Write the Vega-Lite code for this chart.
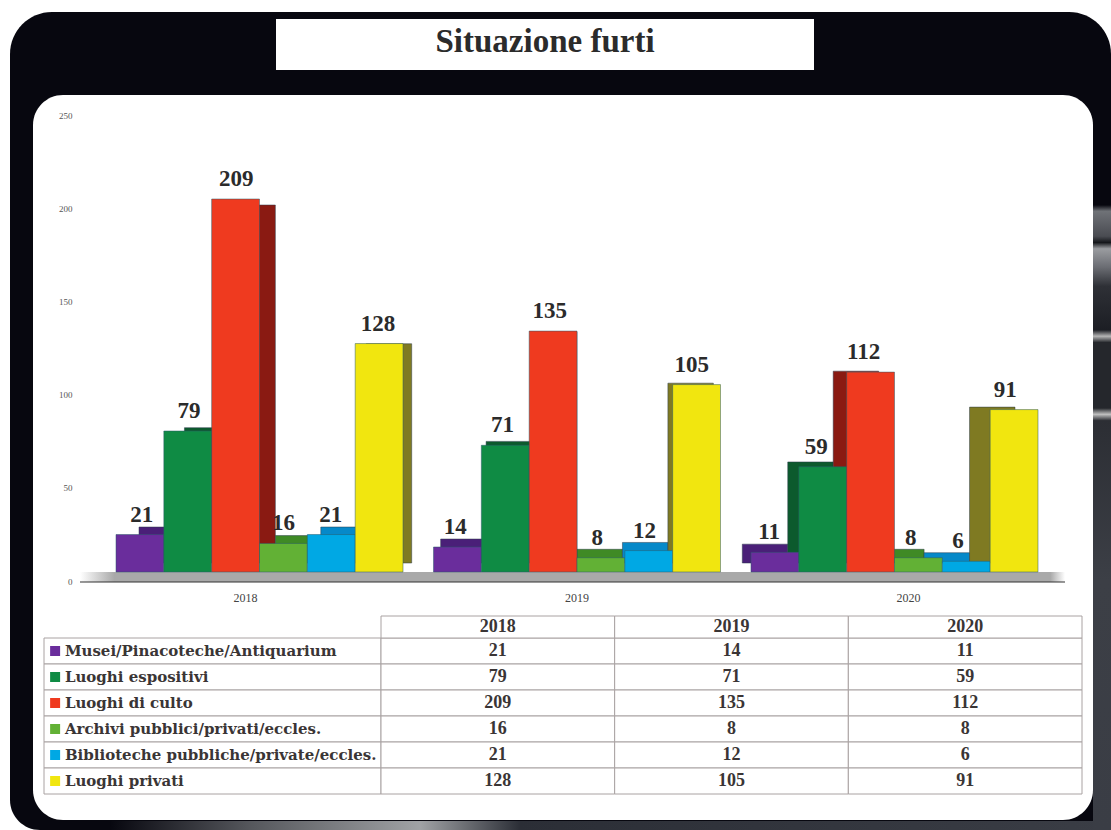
{"$schema":"https://vega.github.io/schema/vega-lite/v6.json","width":1111,"height":830,"autosize":{"type":"fit","contains":"padding"},"padding":0,"background":"#ffffff","view":{"stroke":null},
"datasets":{"furti":[
{"anno":"2018","tipo":"Musei/Pinacoteche/Antiquarium","furti":21},{"anno":"2018","tipo":"Luoghi espositivi","furti":79},{"anno":"2018","tipo":"Luoghi di culto","furti":209},{"anno":"2018","tipo":"Archivi pubblici/privati/eccles.","furti":16},{"anno":"2018","tipo":"Biblioteche pubbliche/private/eccles.","furti":21},{"anno":"2018","tipo":"Luoghi privati","furti":128},
{"anno":"2019","tipo":"Musei/Pinacoteche/Antiquarium","furti":14},{"anno":"2019","tipo":"Luoghi espositivi","furti":71},{"anno":"2019","tipo":"Luoghi di culto","furti":135},{"anno":"2019","tipo":"Archivi pubblici/privati/eccles.","furti":8},{"anno":"2019","tipo":"Biblioteche pubbliche/private/eccles.","furti":12},{"anno":"2019","tipo":"Luoghi privati","furti":105},
{"anno":"2020","tipo":"Musei/Pinacoteche/Antiquarium","furti":11},{"anno":"2020","tipo":"Luoghi espositivi","furti":59},{"anno":"2020","tipo":"Luoghi di culto","furti":112},{"anno":"2020","tipo":"Archivi pubblici/privati/eccles.","furti":8},{"anno":"2020","tipo":"Biblioteche pubbliche/private/eccles.","furti":6},{"anno":"2020","tipo":"Luoghi privati","furti":91}],
"tipi":[{"tipo":"Musei/Pinacoteche/Antiquarium"},{"tipo":"Luoghi espositivi"},{"tipo":"Luoghi di culto"},{"tipo":"Archivi pubblici/privati/eccles."},{"tipo":"Biblioteche pubbliche/private/eccles."},{"tipo":"Luoghi privati"}],
"anni":[{"anno":"2018"},{"anno":"2019"},{"anno":"2020"}],
"uno":[{"voce":"fondo"}]},
"resolve":{"scale":{"x":"independent","y":"independent","color":"independent","xOffset":"independent"}},
"layer":[
{"data":{"name":"uno"},"mark":{"type":"bar","color":"#07070f","cornerRadiusTopLeft":42,"cornerRadiusTopRight":42,"cornerRadiusBottomLeft":30},"encoding":{"x":{"datum":0,"type":"quantitative","scale":{"domain":[0,1],"range":[10,1111]},"axis":null},"x2":{"datum":1},"y":{"datum":0,"type":"quantitative","scale":{"domain":[0,1],"range":[12,830]},"axis":null},"y2":{"datum":1}}},
{"data":{"name":"uno"},"mark":{"type":"bar","color":{"gradient":"linear","x1":0,"x2":1,"y1":0,"y2":0,"stops":[{"offset":0,"color":"#07070f"},{"offset":0.14,"color":"#55575c"},{"offset":0.31,"color":"#a0a2a5"},{"offset":0.41,"color":"#2b2e36"},{"offset":1,"color":"#3a3d45"}]}},"encoding":{"x":{"datum":0,"type":"quantitative","scale":{"domain":[0,1],"range":[110,1111]},"axis":null},"x2":{"datum":1},"y":{"datum":0,"type":"quantitative","scale":{"domain":[0,1],"range":[821,830]},"axis":null},"y2":{"datum":1}}},
{"data":{"name":"uno"},"mark":{"type":"bar","color":{"gradient":"linear","x1":0,"x2":0,"y1":0,"y2":1,"stops":[{"offset":0,"color":"#07070f"},{"offset":0.01,"color":"#6f7277"},{"offset":0.05,"color":"#4a4c52"},{"offset":0.06,"color":"#15171b"},{"offset":0.07,"color":"#9a9ca0"},{"offset":0.1,"color":"#6a6c72"},{"offset":0.13,"color":"#2e3036"},{"offset":0.2,"color":"#1c1e24"},{"offset":0.21,"color":"#b5b5b5"},{"offset":0.22,"color":"#25272c"},{"offset":0.325,"color":"#25272c"},{"offset":0.335,"color":"#c0c0c0"},{"offset":0.345,"color":"#2c2e34"},{"offset":0.6,"color":"#3c3f46"},{"offset":1,"color":"#3a3d45"}]}},"encoding":{"x":{"datum":0,"type":"quantitative","scale":{"domain":[0,1],"range":[1093,1111]},"axis":null},"x2":{"datum":1},"y":{"datum":0,"type":"quantitative","scale":{"domain":[0,1],"range":[205,830]},"axis":null},"y2":{"datum":1}}},
{"data":{"name":"uno"},"mark":{"type":"bar","color":"#ffffff","cornerRadius":30},"encoding":{"x":{"datum":0,"type":"quantitative","scale":{"domain":[0,1],"range":[33,1093]},"axis":null},"x2":{"datum":1},"y":{"datum":0,"type":"quantitative","scale":{"domain":[0,1],"range":[95,820]},"axis":null},"y2":{"datum":1}}},
{"data":{"name":"uno"},"mark":{"type":"bar","color":"#ffffff"},"encoding":{"x":{"datum":0,"type":"quantitative","scale":{"domain":[0,1],"range":[276,814]},"axis":null},"x2":{"datum":1},"y":{"datum":0,"type":"quantitative","scale":{"domain":[0,1],"range":[19,70]},"axis":null},"y2":{"datum":1}}},
{"data":{"name":"uno"},"mark":{"type":"text","text":"Situazione furti","font":"Liberation Serif","fontWeight":"bold","fontSize":33,"color":"#2b2b2b","letterSpacing":1},"encoding":{"x":{"datum":0.5,"type":"quantitative","scale":{"domain":[0,1],"range":[276,814]},"axis":null},"y":{"datum":0.46,"type":"quantitative","scale":{"domain":[0,1],"range":[19,70]},"axis":null}}},
{"data":{"name":"uno"},"mark":{"type":"bar","color":{"gradient":"linear","x1":0,"x2":1,"y1":0,"y2":0,"stops":[{"offset":0,"color":"#ffffff"},{"offset":0.035,"color":"#a9a9a9"},{"offset":0.985,"color":"#a9a9a9"},{"offset":1,"color":"#ffffff"}]}},"encoding":{"x":{"datum":0,"type":"quantitative","scale":{"domain":[0,1],"range":[80,1065]},"axis":null},"x2":{"datum":1},"y":{"datum":0,"type":"quantitative","scale":{"domain":[0,1],"range":[572,582]},"axis":null},"y2":{"datum":1}}},
{"data":{"name":"uno"},"mark":{"type":"bar","color":"#333333"},"encoding":{"x":{"datum":0,"type":"quantitative","scale":{"domain":[0,1],"range":[80,1065]},"axis":null},"x2":{"datum":1},"y":{"datum":0,"type":"quantitative","scale":{"domain":[0,1],"range":[581.5,582.5]},"axis":null},"y2":{"datum":1}}},
{"data":{"name":"furti"},"mark":{"type":"point","opacity":0},"encoding":{
"x":{"field":"anno","type":"ordinal","scale":{"type":"point","padding":0,"domain":["2018","2019","2020"],"range":[245,908]},"axis":{"title":null,"orient":"bottom","offset":-238,"domain":false,"ticks":false,"labelAngle":0,"labelFont":"Liberation Serif","labelFontSize":12,"labelColor":"#444444","labelPadding":0,"grid":false,"zindex":1}},
"y":{"field":"furti","type":"quantitative","scale":{"domain":[0,250],"range":[581,115]},"axis":{"title":null,"orient":"left","offset":-72,"domain":false,"ticks":false,"values":[0,50,100,150,200,250],"labelFont":"Liberation Serif","labelFontSize":9,"labelColor":"#555555","labelPadding":0,"grid":false,"zindex":1}}}},
{"data":{"name":"furti"},"mark":{"type":"bar","stroke":"#2a3a4a","strokeWidth":0.5},"encoding":{
"x":{"field":"anno","type":"nominal","scale":{"type":"band","domain":["2018","2019","2020"],"range":[139,1015],"paddingInner":0.096,"paddingOuter":0},"axis":null},
"xOffset":{"field":"tipo","type":"nominal","sort":null,"scale":{"type":"band","domain":["Musei/Pinacoteche/Antiquarium","Luoghi espositivi","Luoghi di culto","Archivi pubblici/privati/eccles.","Biblioteche pubbliche/private/eccles.","Luoghi privati"],"paddingInner":0,"paddingOuter":0}},
"y":{"field":"furti","type":"quantitative","scale":{"domain":[0,209],"range":[563,205]},"axis":null},
"color":{"field":"tipo","type":"nominal","legend":null,"scale":{"domain":["Musei/Pinacoteche/Antiquarium","Luoghi espositivi","Luoghi di culto","Archivi pubblici/privati/eccles.","Biblioteche pubbliche/private/eccles.","Luoghi privati"],"range":["#4a1f78","#0c5a2d","#8a1a12","#3f8a25","#0689c9","#7f7a22"]}}}},
{"data":{"name":"furti"},"mark":{"type":"bar","stroke":"#2a5a6a","strokeWidth":0.5},"encoding":{
"x":{"field":"anno","type":"nominal","scale":{"type":"band","domain":["2018","2019","2020"],"range":[116,1038],"paddingInner":0.096,"paddingOuter":0},"axis":null},
"xOffset":{"field":"tipo","type":"nominal","sort":null,"scale":{"type":"band","domain":["Musei/Pinacoteche/Antiquarium","Luoghi espositivi","Luoghi di culto","Archivi pubblici/privati/eccles.","Biblioteche pubbliche/private/eccles.","Luoghi privati"],"paddingInner":0,"paddingOuter":0}},
"y":{"field":"furti","type":"quantitative","scale":{"domain":[0,209],"range":[572,199]},"axis":null},
"color":{"field":"tipo","type":"nominal","legend":null,"scale":{"domain":["Musei/Pinacoteche/Antiquarium","Luoghi espositivi","Luoghi di culto","Archivi pubblici/privati/eccles.","Biblioteche pubbliche/private/eccles.","Luoghi privati"],"range":["#6a2d9c","#0f8b44","#ef3a1f","#62b135","#00a8e4","#f1e60f"]}}}},
{"data":{"name":"furti"},"mark":{"type":"text","font":"Liberation Serif","fontWeight":"bold","fontSize":23,"color":"#2b2b2b","dy":-20},"encoding":{
"x":{"field":"anno","type":"nominal","scale":{"type":"band","domain":["2018","2019","2020"],"range":[118,1029],"paddingInner":0.096,"paddingOuter":0},"axis":null},
"xOffset":{"field":"tipo","type":"nominal","sort":null,"scale":{"type":"band","domain":["Musei/Pinacoteche/Antiquarium","Luoghi espositivi","Luoghi di culto","Archivi pubblici/privati/eccles.","Biblioteche pubbliche/private/eccles.","Luoghi privati"],"paddingInner":0,"paddingOuter":0}},
"y":{"field":"furti","type":"quantitative","scale":{"domain":[0,209],"range":[572,199]},"axis":null},
"text":{"field":"furti","type":"quantitative"}}},
{"data":{"name":"tipi"},"mark":{"type":"bar","fill":"#ffffff","stroke":"#a9a2a2","strokeWidth":1},"encoding":{"x":{"datum":0,"type":"quantitative","scale":{"domain":[0,1],"range":[44,381]},"axis":null},"x2":{"datum":1},"y":{"field":"tipo","type":"nominal","sort":null,"scale":{"type":"band","domain":["Musei/Pinacoteche/Antiquarium","Luoghi espositivi","Luoghi di culto","Archivi pubblici/privati/eccles.","Biblioteche pubbliche/private/eccles.","Luoghi privati"],"range":[638,794],"paddingInner":0,"paddingOuter":0},"axis":null}}},
{"data":{"name":"tipi"},"mark":{"type":"point","shape":"square","filled":true,"size":100,"opacity":1},"encoding":{"x":{"datum":0.033,"type":"quantitative","scale":{"domain":[0,1],"range":[44,381]},"axis":null},"y":{"field":"tipo","type":"nominal","sort":null,"scale":{"type":"band","domain":["Musei/Pinacoteche/Antiquarium","Luoghi espositivi","Luoghi di culto","Archivi pubblici/privati/eccles.","Biblioteche pubbliche/private/eccles.","Luoghi privati"],"range":[638,794],"paddingInner":0,"paddingOuter":0},"axis":null},"color":{"field":"tipo","type":"nominal","legend":null,"scale":{"domain":["Musei/Pinacoteche/Antiquarium","Luoghi espositivi","Luoghi di culto","Archivi pubblici/privati/eccles.","Biblioteche pubbliche/private/eccles.","Luoghi privati"],"range":["#6a2d9c","#0f8b44","#ef3a1f","#62b135","#00a8e4","#f1e60f"]}}}},
{"data":{"name":"tipi"},"mark":{"type":"text","align":"left","font":"DejaVu Serif","fontWeight":"bold","fontSize":15,"color":"#3a3535"},"encoding":{"x":{"datum":0.062,"type":"quantitative","scale":{"domain":[0,1],"range":[44,381]},"axis":null},"y":{"field":"tipo","type":"nominal","sort":null,"scale":{"type":"band","domain":["Musei/Pinacoteche/Antiquarium","Luoghi espositivi","Luoghi di culto","Archivi pubblici/privati/eccles.","Biblioteche pubbliche/private/eccles.","Luoghi privati"],"range":[638,794],"paddingInner":0,"paddingOuter":0},"axis":null},"text":{"field":"tipo","type":"nominal"}}},
{"data":{"name":"furti"},"mark":{"type":"rect","fill":"#ffffff","stroke":"#a9a2a2","strokeWidth":1},"encoding":{"x":{"field":"anno","type":"nominal","scale":{"type":"band","domain":["2018","2019","2020"],"range":[381,1082],"paddingInner":0,"paddingOuter":0},"axis":null},"y":{"field":"tipo","type":"nominal","sort":null,"scale":{"type":"band","domain":["Musei/Pinacoteche/Antiquarium","Luoghi espositivi","Luoghi di culto","Archivi pubblici/privati/eccles.","Biblioteche pubbliche/private/eccles.","Luoghi privati"],"range":[638,794],"paddingInner":0,"paddingOuter":0},"axis":null}}},
{"data":{"name":"furti"},"mark":{"type":"text","font":"Liberation Serif","fontWeight":"bold","fontSize":18,"color":"#3a3535"},"encoding":{"x":{"field":"anno","type":"nominal","scale":{"type":"band","domain":["2018","2019","2020"],"range":[381,1082],"paddingInner":0,"paddingOuter":0},"axis":null},"y":{"field":"tipo","type":"nominal","sort":null,"scale":{"type":"band","domain":["Musei/Pinacoteche/Antiquarium","Luoghi espositivi","Luoghi di culto","Archivi pubblici/privati/eccles.","Biblioteche pubbliche/private/eccles.","Luoghi privati"],"range":[638,794],"paddingInner":0,"paddingOuter":0},"axis":null},"text":{"field":"furti","type":"quantitative"}}},
{"data":{"name":"anni"},"mark":{"type":"rect","fill":"#ffffff","stroke":"#a9a2a2","strokeWidth":1},"encoding":{"x":{"field":"anno","type":"nominal","scale":{"type":"band","domain":["2018","2019","2020"],"range":[381,1082],"paddingInner":0,"paddingOuter":0},"axis":null},"y":{"datum":0,"type":"quantitative","scale":{"domain":[0,1],"range":[616,638]},"axis":null},"y2":{"datum":1}}},
{"data":{"name":"anni"},"mark":{"type":"text","font":"Liberation Serif","fontWeight":"bold","fontSize":18,"color":"#3a3535"},"encoding":{"x":{"field":"anno","type":"nominal","scale":{"type":"band","domain":["2018","2019","2020"],"range":[381,1082],"paddingInner":0,"paddingOuter":0},"axis":null},"y":{"datum":0.5,"type":"quantitative","scale":{"domain":[0,1],"range":[616,638]},"axis":null},"text":{"field":"anno","type":"nominal"}}}
]}
